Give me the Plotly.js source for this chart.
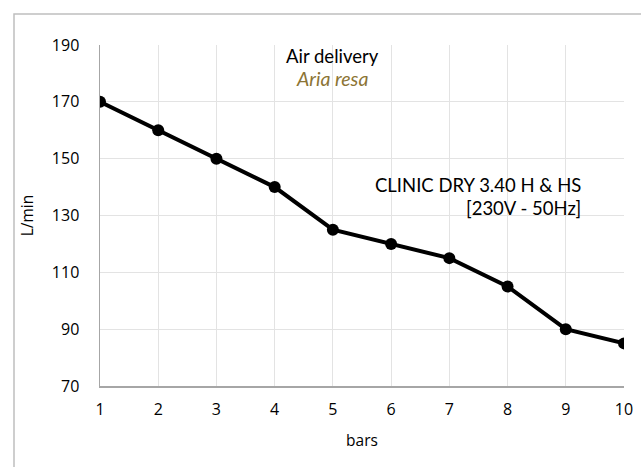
<!DOCTYPE html>
<html>
<head>
<meta charset="utf-8">
<script src="https://cdn.plot.ly/plotly-3.0.1.min.js"></script>
<style>html,body{margin:0;padding:0;background:#fff;}#chart{width:641px;height:467px;}</style>
</head>
<body>
<div id="chart"></div>
<script>
const bars = [1, 2, 3, 4, 5, 6, 7, 8, 9, 10];
const airDelivery = [170, 160, 150, 140, 125, 120, 115, 105, 90, 85];
const yTicks = [70, 90, 110, 130, 150, 170, 190];
const titleMain = "Air delivery";
const titleSub = "Aria resa";
const modelName = "CLINIC DRY 3.40 H & HS";
const modelSpec = "[230V - 50Hz]";

const tfont = "Lato, 'Open Sans', sans-serif";
const afont = "'Open Sans', sans-serif";

const trace = {
  x: bars,
  y: airDelivery,
  type: "scatter",
  mode: "lines+markers",
  line: {color: "#000000", width: 4},
  marker: {color: "#000000", size: 12},
  hoverinfo: "skip",
  showlegend: false
};

const layout = {
  width: 641,
  height: 467,
  margin: {l: 100, r: 17, t: 45, b: 81},
  paper_bgcolor: "#ffffff",
  plot_bgcolor: "#ffffff",
  font: {family: afont, size: 16, color: "#000000"},
  xaxis: {
    range: [1, 10],
    tickvals: bars,
    ticktext: bars.map(String),
    showgrid: true,
    gridcolor: "#e3e3e3",
    gridwidth: 1,
    zeroline: false,
    showline: true,
    linecolor: "#a6a6a6",
    linewidth: 1.5,
    ticks: "",
    ticklabelstandoff: 8,
    tickfont: {family: afont, size: 16, color: "#000"},
    title: {text: "bars", font: {family: afont, size: 15.5, color: "#000"}, standoff: 16}
  },
  yaxis: {
    range: [70, 190],
    tickvals: yTicks,
    showgrid: true,
    gridcolor: "#e3e3e3",
    gridwidth: 1,
    zeroline: false,
    showline: true,
    linecolor: "#a6a6a6",
    linewidth: 1.5,
    ticks: "",
    ticklabelstandoff: 16,
    tickfont: {family: afont, size: 16, color: "#000"},
    title: {text: "L/min", font: {family: afont, size: 15.5, color: "#000"}, standoff: 14}
  },
  shapes: [{
    type: "rect", xref: "paper", yref: "paper",
    x0: 0, x1: 1, y0: 0, y1: 1,
    line: {color: "#bfbfbf", width: 1.5}, fillcolor: "rgba(0,0,0,0)", layer: "below"
  }],
  annotations: [
    {xref: "paper", yref: "paper", text: titleMain, showarrow: false,
     xanchor: "center", yanchor: "middle", font: {family: tfont, size: 18.5, color: "#000"}},
    {xref: "paper", yref: "paper", text: "<i>" + titleSub + "</i>", showarrow: false,
     xanchor: "center", yanchor: "middle", font: {family: tfont, size: 19.5, color: "#8c7434"}},
    {xref: "paper", yref: "paper", text: modelName, showarrow: false,
     xanchor: "right", yanchor: "middle", font: {family: tfont, size: 18.5, color: "#000"}},
    {xref: "paper", yref: "paper", text: modelSpec, showarrow: false,
     xanchor: "right", yanchor: "middle", font: {family: tfont, size: 18.5, color: "#000"}}
  ]
};

// place annotations at pixel positions converted to paper coords
const plotW = 641 - 100 - 17, plotH = 467 - 45 - 81;
function px(xp) { return (xp - 100) / plotW; }
function py(yp) { return (467 - 81 - yp) / plotH; }
layout.annotations[0].x = px(332); layout.annotations[0].y = py(56);
layout.annotations[1].x = px(332); layout.annotations[1].y = py(78);
layout.annotations[2].x = px(583); layout.annotations[2].y = py(185);
layout.annotations[3].x = px(583); layout.annotations[3].y = py(208);
layout.shapes[0].x0 = px(14); layout.shapes[0].x1 = px(660);
layout.shapes[0].y1 = py(14); layout.shapes[0].y0 = py(480);

Plotly.newPlot("chart", [trace], layout, {staticPlot: true, displayModeBar: false});
</script>
</body>
</html>
